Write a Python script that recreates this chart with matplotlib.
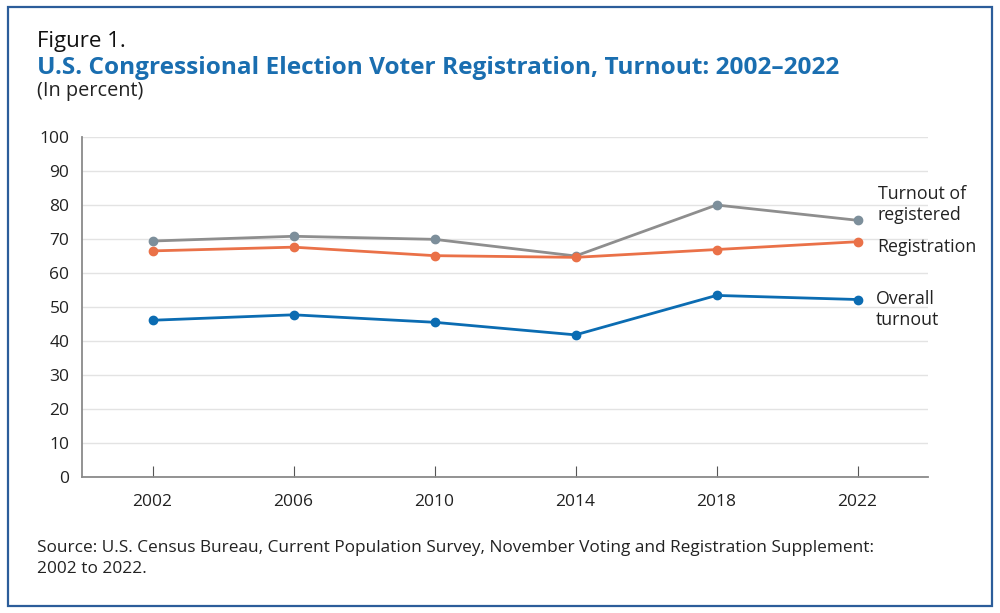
import matplotlib
matplotlib.use('Agg')
import matplotlib.pyplot as plt
from matplotlib.patches import Rectangle

#### data
years = [2002, 2006, 2010, 2014, 2018, 2022]
turnout_registered = [69.4, 70.8, 69.9, 65.0, 80.0, 75.5]
registration = [66.5, 67.6, 65.1, 64.6, 66.9, 69.2]
overall_turnout = [46.1, 47.7, 45.5, 41.8, 53.4, 52.2]
yticks = [0, 10, 20, 30, 40, 50, 60, 70, 80, 90, 100]

plt.rcParams['font.family'] = ['Open Sans', 'DejaVu Sans']

fig = plt.figure(figsize=(10, 6.13), dpi=100)
ax = fig.add_axes([0.082, 0.2219, 0.846, 0.5546])

#### frame round the whole figure
fig.patches.append(Rectangle((0.008, 0.012), 0.984, 0.976, transform=fig.transFigure,
                             fill=False, edgecolor='#2c5d9a', linewidth=1.6))

#### lines
ax.plot(years, turnout_registered, color='#8e8e8e', lw=2, zorder=3,
        marker='o', ms=6, mfc='#7d8f9b', mec='#7d8f9b')
ax.plot(years, registration, color='#ea7148', lw=2, zorder=4,
        marker='o', ms=6, mfc='#ea7148', mec='#ea7148')
ax.plot(years, overall_turnout, color='#0b6cb2', lw=2, zorder=5,
        marker='o', ms=6, mfc='#0b6cb2', mec='#0b6cb2')

#### axes styling
ax.set_xlim(2000, 2024)
ax.set_ylim(0, 100)
ax.set_yticks(yticks)
ax.set_xticks(years)
ax.grid(axis='y', color='#e3e3e3', lw=1)
ax.set_axisbelow(True)
for s in ['top', 'right']:
    ax.spines[s].set_visible(False)
ax.spines['left'].set_color('#8a8a8a')
ax.spines['bottom'].set_color('#8a8a8a')
ax.spines['left'].set_linewidth(1.3)
ax.spines['bottom'].set_linewidth(1.3)
ax.tick_params(axis='y', length=0, pad=9, labelsize=12.5, labelcolor='#222222')
ax.tick_params(axis='x', direction='in', length=8, color='#555555', width=0.8,
               pad=12, labelsize=12.5, labelcolor='#222222')

#### series labels at the right
lab_kw = dict(fontsize=12.8, color='#222222', va='center', ha='left', linespacing=1.25)
ax.text(2022.57, 80.1, 'Turnout of\nregistered', **lab_kw)
ax.text(2022.57, 67.5, 'Registration', **lab_kw)
ax.text(2022.52, 49.2, 'Overall\nturnout', **lab_kw)

#### titles and source
fig.text(0.037, 0.932, 'Figure 1.', fontsize=16, color='#111111', va='center')
fig.text(0.037, 0.889, 'U.S. Congressional Election Voter Registration, Turnout: 2002\u20132022',
         fontsize=17.6, fontweight='bold', color='#1a6eb0', va='center')
fig.text(0.037, 0.852, '(In percent)', fontsize=14.3, color='#222222', va='center')
fig.text(0.037, 0.089, 'Source: U.S. Census Bureau, Current Population Survey, November Voting and Registration Supplement:\n2002 to 2022.',
         fontsize=12.4, color='#222222', va='center', linespacing=1.35)

fig.savefig('out.png', dpi=100)
